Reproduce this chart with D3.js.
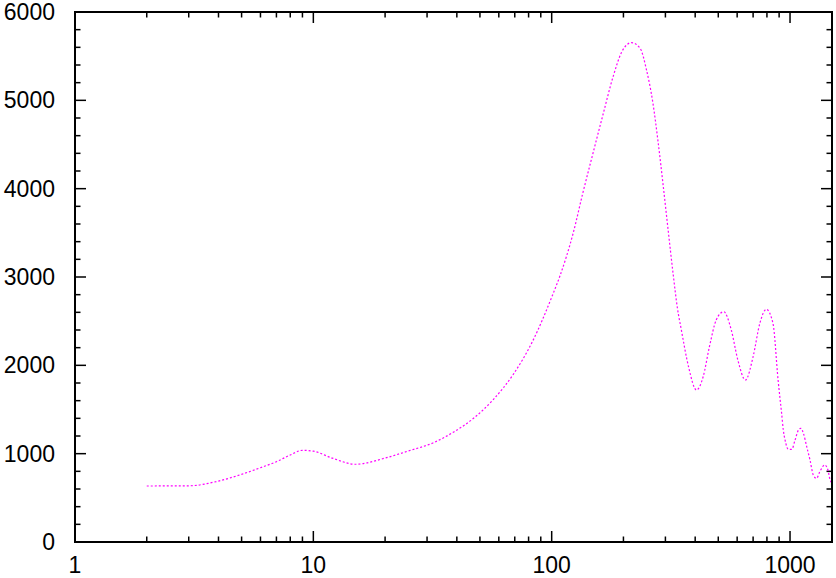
<!DOCTYPE html>
<html>
<head>
<meta charset="utf-8">
<script src="https://cdn.jsdelivr.net/npm/d3@7"></script>
<style>
  body { margin: 0; background: #fff; }
</style>
</head>
<body>
<div id="chart"></div>
<script>
// multipole moments and power
const ell = [2, 3, 4, 5, 6, 7, 8, 9, 10, 12, 15, 20, 25, 32, 39, 47, 57, 69, 83, 101, 108,
    123, 135, 149, 164, 181, 197, 216, 235, 250, 266, 280, 294, 308, 323, 337, 350, 375,
    405, 432, 459, 490, 527, 567, 604, 650, 700, 747, 795, 848, 891, 906, 922, 937, 953,
    984, 1017, 1050, 1085, 1110, 1138, 1175, 1213, 1252, 1292, 1333, 1398, 1442, 1473, 1500];
const power = [634, 636, 690, 766, 841, 909, 985, 1038, 1028, 950, 880, 950, 1030, 1125, 1249, 1400, 1615, 1898, 2268, 2800, 3003,
    3494, 3947, 4400, 4834, 5268, 5551, 5653, 5589, 5343, 4966, 4513, 4022, 3532, 3042, 2645, 2400, 1985,
    1721, 1871, 2211, 2513, 2607, 2400, 2060, 1834, 2098, 2476, 2634, 2476, 1834, 1645, 1457, 1268, 1155,
    1049, 1049, 1155, 1268, 1287, 1230, 1079, 928, 758, 721, 796, 872, 815, 702, 668];

const xTicks = [1, 10, 100, 1000];
const yTicks = [0, 1000, 2000, 3000, 4000, 5000, 6000];

// set the dimensions and margins of the graph
const margin = { top: 12, right: 4, bottom: 36, left: 75 },
    width = 836 - margin.left - margin.right,
    height = 578 - margin.top - margin.bottom;

const svg = d3.select("#chart")
    .append("svg")
    .attr("width", 836)
    .attr("height", 578)
    .append("g")
    .attr("transform", `translate(${margin.left},${margin.top})`);

const x = d3.scaleLog().domain([1, 1500]).range([0, width]);
const y = d3.scaleLinear().domain([0, 6000]).range([height, 0]);

// minor ticks
const xMinor = [];
for (let d = 1; d <= 1000; d *= 10) {
    for (let k = 2; k <= 9; k++) if (d * k <= 1500) xMinor.push(d * k);
}
const yMinor = d3.range(0, 6001, 200).filter(v => v % 1000 !== 0);

const major = 11, minor = 5.5;
const ticks = svg.append("g").attr("stroke", "#000").attr("stroke-width", 1.5);

xTicks.forEach(v => {
    ticks.append("line").attr("x1", x(v)).attr("x2", x(v)).attr("y1", height).attr("y2", height - major);
    ticks.append("line").attr("x1", x(v)).attr("x2", x(v)).attr("y1", 0).attr("y2", major);
});
xMinor.forEach(v => {
    ticks.append("line").attr("x1", x(v)).attr("x2", x(v)).attr("y1", height).attr("y2", height - minor);
    ticks.append("line").attr("x1", x(v)).attr("x2", x(v)).attr("y1", 0).attr("y2", minor);
});
yTicks.forEach(v => {
    ticks.append("line").attr("x1", 0).attr("x2", major).attr("y1", y(v)).attr("y2", y(v));
    ticks.append("line").attr("x1", width).attr("x2", width - major).attr("y1", y(v)).attr("y2", y(v));
});
yMinor.forEach(v => {
    ticks.append("line").attr("x1", 0).attr("x2", minor).attr("y1", y(v)).attr("y2", y(v));
    ticks.append("line").attr("x1", width).attr("x2", width - minor).attr("y1", y(v)).attr("y2", y(v));
});

// tick labels
svg.append("g").selectAll("text")
    .data(xTicks)
    .join("text")
    .attr("x", d => x(d))
    .attr("y", height + 31)
    .attr("text-anchor", "middle")
    .attr("style", "font-size: 23px; font-family: 'Liberation Sans', Arial, sans-serif")
    .text(d => d);

svg.append("g").selectAll("text")
    .data(yTicks)
    .join("text")
    .attr("x", -20)
    .attr("y", d => y(d) + 8)
    .attr("text-anchor", "end")
    .attr("style", "font-size: 23px; font-family: 'Liberation Sans', Arial, sans-serif")
    .text(d => d);

// the curve
const line = d3.line()
    .x((d, i) => x(ell[i]))
    .y(d => y(d))
    .curve(d3.curveMonotoneX);

svg.append("path")
    .datum(power)
    .attr("fill", "none")
    .attr("stroke", "#ff00ff")
    .attr("stroke-width", 1.2)
    .attr("stroke-dasharray", "2,2")
    .attr("d", line);

// frame
svg.append("rect")
    .attr("width", width)
    .attr("height", height)
    .attr("fill", "none")
    .attr("stroke", "#000")
    .attr("stroke-width", 2);
</script>
</body>
</html>
